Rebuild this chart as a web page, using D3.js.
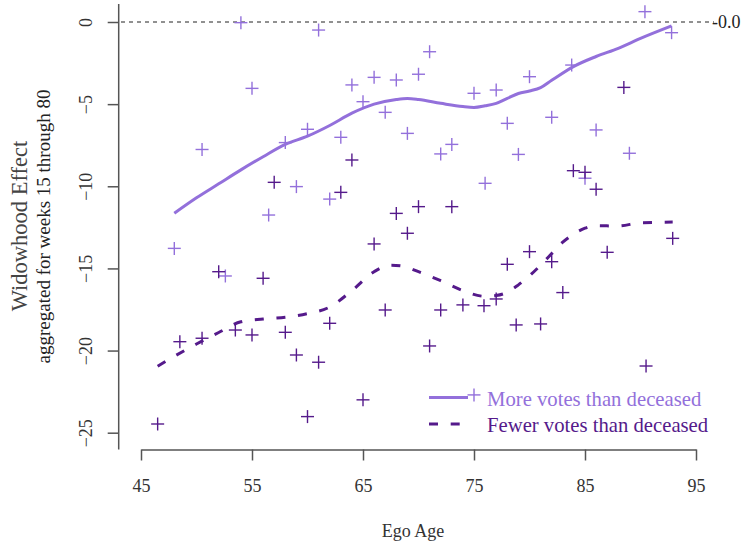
<!DOCTYPE html>
<html><head><meta charset="utf-8">
<script src="https://cdn.jsdelivr.net/npm/d3@7"></script>
<style>body{margin:0;background:#fff}svg{display:block}text{font-family:"Liberation Serif","Times New Roman",serif}</style>
</head><body>
<script>
const xTicks = [45, 55, 65, 75, 85, 95];
const yTicks = [0, -5, -10, -15, -20, -25];

const moreAge = [48, 50.5, 52.6, 54, 55, 56.5, 58, 59, 60, 61, 62, 63, 64, 65, 66, 67, 68, 69, 70, 71, 72, 73, 75, 75, 76, 77, 78, 79, 80, 82, 83.8, 85, 86, 89, 90.4, 92.8];
const moreVal = [-13.78, -7.76, -15.46, -0.04, -4.04, -11.75, -7.34, -10.02, -6.53, -0.49, -10.78, -7.02, -3.83, -4.85, -3.37, -5.5, -3.53, -6.78, -3.18, -1.81, -8.03, -7.45, -4.34, -22.7, -9.82, -4.14, -6.17, -8.06, -3.33, -5.8, -2.62, -9.51, -6.57, -7.99, 0.63, -0.65];

const fewerAge = [46.5, 48.5, 50.5, 52, 53.5, 55, 56, 57, 58, 59, 60, 61, 62, 63, 64, 65, 66, 67, 68, 69, 70, 71, 72, 73, 74, 75.9, 77, 78, 78.8, 80, 81, 82, 83, 83.95, 85, 86, 87, 88.5, 90.5, 92.9];
const fewerVal = [-24.47, -19.46, -19.25, -15.2, -18.75, -19.05, -15.6, -9.76, -18.89, -20.27, -24.02, -20.71, -18.34, -10.37, -8.4, -23.0, -13.51, -17.53, -11.65, -12.86, -11.24, -19.72, -17.53, -11.24, -17.22, -17.27, -16.86, -14.75, -18.44, -13.98, -18.38, -14.59, -16.47, -9.05, -9.15, -10.18, -14.02, -3.98, -20.94, -13.17];

const moreSmoothAge = [48, 50, 52, 54, 56, 58, 60, 62, 64, 66, 68, 69, 70, 72, 74, 75, 76, 77, 78, 79, 80, 81, 82, 84, 86, 88, 90, 92.8];
const moreSmoothVal = [-11.64, -10.7, -9.85, -9.0, -8.2, -7.45, -6.95, -6.3, -5.55, -5.0, -4.72, -4.66, -4.72, -4.95, -5.15, -5.2, -5.1, -4.95, -4.65, -4.35, -4.2, -4.0, -3.55, -2.7, -2.1, -1.6, -1.0, -0.24];

const fewerSmoothAge = [46.5, 48, 50, 52, 54, 56, 58, 60, 62, 64, 66, 67.5, 68.5, 70, 72, 74, 76, 77, 78, 79, 80, 81, 82, 83, 84, 85, 86, 88, 90, 92.9];
const fewerSmoothVal = [-20.95, -20.35, -19.6, -18.9, -18.25, -18.08, -17.97, -17.75, -17.35, -16.35, -15.2, -14.8, -14.85, -15.2, -15.75, -16.35, -16.7, -16.65, -16.45, -16.0, -15.45, -14.8, -14.1, -13.4, -12.9, -12.55, -12.4, -12.42, -12.22, -12.18];

const legendLabels = ["More votes than deceased", "Fewer votes than deceased"];

const W = 743, H = 546;
const lightC = "#9370DB", darkC = "#551A8B", axisC = "#555";

const svg = d3.select("body").append("svg").attr("width", W).attr("height", H);
const x = d3.scaleLinear().domain([45, 95]).range([141, 696]);
const y = d3.scaleLinear().domain([0, -25]).range([22, 432.7]);

// zero reference line
svg.append("line").attr("x1", 121).attr("x2", 714).attr("y1", y(0)).attr("y2", y(0))
  .attr("stroke", "#222").attr("stroke-width", 1).attr("stroke-dasharray", "4,4");
svg.append("text").attr("x", 712).attr("y", y(0) + 6).attr("font-size", 18).attr("fill", "#222").text("-0.0");

// x axis
const xa = svg.append("g").attr("transform", "translate(0,449.5)")
  .call(d3.axisBottom(x).tickValues(xTicks).tickSize(11).tickSizeOuter(0).tickPadding(19).tickFormat(d3.format("d")));
xa.select(".domain").attr("stroke", axisC).attr("stroke-width", 1.5);
xa.selectAll(".tick line").attr("stroke", axisC).attr("stroke-width", 1.5);
xa.selectAll(".tick text").attr("font-size", 18).attr("fill", "#333").attr("font-family", "Liberation Serif");

// y axis
const ya = svg.append("g").attr("transform", "translate(118.7,0)")
  .call(d3.axisLeft(y).tickValues(yTicks).tickSize(11).tickFormat(d => d === 0 ? "0" : "\u2212" + Math.abs(d)));
ya.select(".domain").remove();
ya.append("line").attr("x1", 0).attr("x2", 0).attr("y1", 4).attr("y2", 449.5).attr("stroke", axisC).attr("stroke-width", 1.5);
ya.selectAll(".tick line").attr("stroke", axisC).attr("stroke-width", 1.5);
ya.selectAll(".tick text").attr("font-size", 18).attr("fill", "#333").attr("font-family", "Liberation Serif")
  .attr("x", null).attr("dy", null).attr("text-anchor", "middle")
  .attr("transform", "translate(-27,0) rotate(-90)");

// axis titles
svg.append("text").attr("x", 413).attr("y", 537).attr("text-anchor", "middle").attr("font-size", 18).attr("fill", "#333").text("Ego Age");
svg.append("text").attr("transform", "translate(27,226) rotate(-90)").attr("text-anchor", "middle").attr("font-size", 22.5).attr("fill", "#444").text("Widowhood Effect");
svg.append("text").attr("transform", "translate(50,226.5) rotate(-90)").attr("text-anchor", "middle").attr("font-size", 19).attr("fill", "#222").text("aggregated for weeks 15 through 80");

// points
function crosses(ages, vals, color) {
  const g = svg.append("g").attr("stroke", color).attr("stroke-width", 1.4);
  ages.forEach((a, i) => {
    const cx = x(a), cy = y(vals[i]);
    g.append("line").attr("x1", cx - 6.5).attr("x2", cx + 6.5).attr("y1", cy).attr("y2", cy);
    g.append("line").attr("x1", cx).attr("x2", cx).attr("y1", cy - 6.5).attr("y2", cy + 6.5);
  });
}
crosses(moreAge, moreVal, lightC);
crosses(fewerAge, fewerVal, darkC);

// smooth lines
const line = d3.line().x(d => x(d[0])).y(d => y(d[1])).curve(d3.curveMonotoneX);
svg.append("path").datum(moreSmoothAge.map((a, i) => [a, moreSmoothVal[i]]))
  .attr("d", line).attr("fill", "none").attr("stroke", lightC).attr("stroke-width", 3);
svg.append("path").datum(fewerSmoothAge.map((a, i) => [a, fewerSmoothVal[i]]))
  .attr("d", line).attr("fill", "none").attr("stroke", darkC).attr("stroke-width", 3).attr("stroke-dasharray", "9,12.7");

// legend
const lg = svg.append("g");
lg.append("line").attr("x1", 429).attr("x2", 468).attr("y1", 397.5).attr("y2", 397.5).attr("stroke", lightC).attr("stroke-width", 3);
lg.append("line").attr("x1", 429).attr("x2", 469).attr("y1", 424).attr("y2", 424).attr("stroke", darkC).attr("stroke-width", 3).attr("stroke-dasharray", "9,12.7");
lg.append("text").attr("x", 487).attr("y", 406).attr("font-size", 20.7).attr("fill", lightC).text(legendLabels[0]);
lg.append("text").attr("x", 487).attr("y", 431.5).attr("font-size", 20.7).attr("fill", darkC).text(legendLabels[1]);
</script>
</body></html>
